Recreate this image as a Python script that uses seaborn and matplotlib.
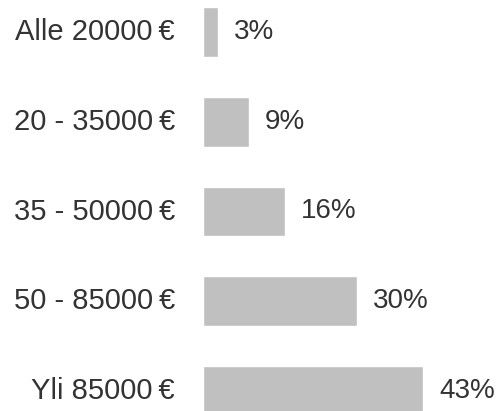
import matplotlib
matplotlib.use("Agg")
import matplotlib.pyplot as plt
import pandas as pd
import seaborn as sns

# income brackets and share of respondents (%)
categories = ["Alle 20000\u2009€", "20 - 35000\u2009€", "35 - 50000\u2009€",
              "50 - 85000\u2009€", "Yli 85000\u2009€"]
shares = [3, 9, 16, 30, 43]

df = pd.DataFrame({"bracket": categories, "share": shares})

sns.set_theme(style="white")
plt.rcParams["font.family"] = ["Liberation Sans", "DejaVu Sans"]

fig = plt.figure(figsize=(5.02, 4.11), dpi=100)
ax = fig.add_axes([0, 0, 1, 1])

sns.barplot(data=df, x="share", y="bracket", orient="h", color="#c0c0c0",
            saturation=1, width=0.557, ax=ax)

# pixel layout: bars start at x=203, ~5.12 px per percent; rows every ~89.75 px
px_per_pct = 5.12
ax.set_xlim(-203 / px_per_pct, (502 - 203) / px_per_pct)
ax.set_ylim((411 - 32) / 89.75, -32 / 89.75)
ax.axis("off")

for i, (lab, v) in enumerate(zip(categories, shares)):
    ax.text(-28 / px_per_pct, i, lab, ha="right", va="center", fontsize=21, color="#333333")
    ax.text(v + 16 / px_per_pct, i, f"{v}%", ha="left", va="center", fontsize=20, color="#333333")

fig.savefig("out.png", dpi=100)
